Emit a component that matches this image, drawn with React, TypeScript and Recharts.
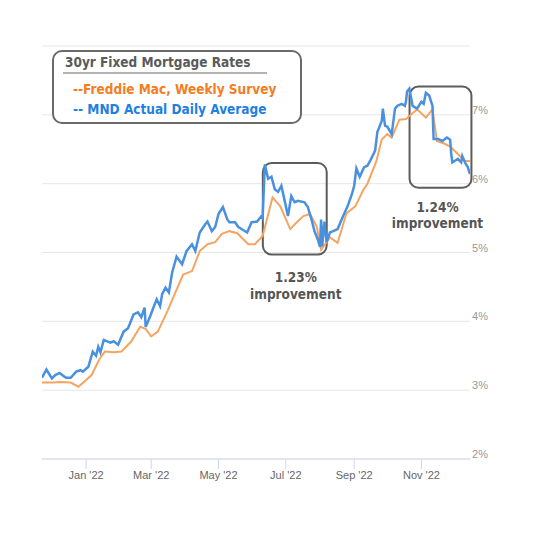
import React from 'react';
import { LineChart, Line, XAxis, YAxis, CartesianGrid, ReferenceArea } from 'recharts';

// x values are days counted from Jan 1 2022
const tickDays = [0, 59, 120, 181, 243, 304];
const tickLabels = ["Jan '22", "Mar '22", "May '22", "Jul '22", "Sep '22", "Nov '22"];
const rateTicks = [2, 3, 4, 5, 6, 7, 8];

// Freddie Mac, weekly survey
const freddieDays = [
  -40, -30, -23, -14, -7, 5, 12, 17, 25, 32, 41, 49, 54, 59, 65, 74, 82, 88, 96, 103,
  110, 117, 123, 130, 137, 147, 153, 160, 169, 176, 185, 191, 197, 203, 209, 213, 221, 228, 236, 244,
  251, 255, 263, 268, 273, 277, 284, 290, 300, 308, 314, 318, 325, 330, 337, 343, 348,
];
const freddieRates = [
  3.11, 3.11, 3.12, 3.11, 3.05, 3.22, 3.45, 3.56, 3.55, 3.56, 3.71, 3.92, 3.89, 3.78, 3.85, 4.16, 4.46, 4.68, 4.73, 5.02,
  5.12, 5.15, 5.27, 5.31, 5.28, 5.12, 5.12, 5.24, 5.8, 5.67, 5.34, 5.44, 5.53, 5.56, 5.38, 5.04, 5.22, 5.14, 5.57, 5.67,
  5.9, 6.0, 6.32, 6.64, 6.72, 6.67, 6.93, 6.94, 7.08, 6.96, 7.08, 6.62, 6.58, 6.54, 6.43, 6.33, 6.33,
];

// MND actual daily average
const mndDays = [
  -40, -36, -31, -28, -24, -20, -18, -14, -9, -5, -3, 2, 6, 9, 11, 13, 16, 22, 25, 29,
  34, 38, 43, 47, 50, 53, 54, 58, 62, 64, 67, 69, 72, 75, 78, 82, 87, 91, 96, 99,
  103, 108, 110, 114, 117, 120, 124, 128, 130, 135, 138, 142, 146, 150, 155, 159, 160, 162, 165, 168,
  171, 174, 177, 180, 183, 186, 189, 192, 198, 201, 205, 207, 210, 212, 213, 214, 216, 218, 221, 224,
  228, 233, 237, 241, 243, 245, 248, 252, 255, 258, 262, 264, 268, 269, 271, 273, 277, 280, 282, 286,
  289, 290, 291, 293, 296, 300, 304, 306, 308, 311, 314, 315, 319, 323, 327, 330, 331, 332, 334, 337,
  340, 341, 344, 346, 348,
];
const mndRates = [
  3.18, 3.3, 3.17, 3.22, 3.25, 3.2, 3.18, 3.18, 3.27, 3.29, 3.27, 3.34, 3.56, 3.5, 3.63, 3.55, 3.73, 3.69, 3.71, 3.66,
  3.85, 3.9, 4.1, 4.13, 4.06, 4.2, 3.92, 4.07, 4.24, 4.32, 4.22, 4.4, 4.49, 4.42, 4.71, 4.94, 4.83, 5.02, 5.12, 5.02,
  5.29, 5.41, 5.45, 5.31, 5.37, 5.56, 5.66, 5.48, 5.44, 5.44, 5.37, 5.33, 5.29, 5.44, 5.45, 5.53, 5.5, 6.28, 6.07, 6.1,
  5.92, 5.88, 5.97, 5.75, 5.53, 5.82, 5.73, 5.75, 5.73, 5.66, 5.44, 5.31, 5.19, 5.08, 5.48, 5.09, 5.45, 5.15, 5.29, 5.31,
  5.34, 5.53, 5.67, 5.85, 5.97, 6.22, 6.1, 6.24, 6.26, 6.35, 6.48, 6.75, 6.91, 7.09, 6.84, 6.83, 6.72, 7.09, 7.13, 7.16,
  7.13, 7.2, 7.34, 7.38, 7.13, 7.09, 7.19, 7.16, 7.32, 7.28, 7.13, 6.65, 6.65, 6.62, 6.67, 6.64, 6.43, 6.31, 6.33, 6.36,
  6.31, 6.4, 6.29, 6.24, 6.14,
];

const buildRows = () => {
  const rows = new Map<number, any>();
  freddieDays.forEach((d, i) => rows.set(d, { ...(rows.get(d) || { day: d }), freddie: freddieRates[i] }));
  mndDays.forEach((d, i) => rows.set(d, { ...(rows.get(d) || { day: d }), mnd: mndRates[i] }));
  return [...rows.values()].sort((a, b) => a.day - b.day);
};

const rows = buildRows();

const boldFont = "'DejaVu Sans Condensed', 'DejaVu Sans', sans-serif";
const tickFont = "'Liberation Sans', Arial, sans-serif";

const improvementBox = (label: string, dx: number, firstDy: number, secondDy: number) => (props: any) => {
  const { x, y, width, height } = props;
  const cx = x + width / 2 + dx;
  return (
    <g>
      <rect x={x} y={y} width={width} height={height} rx={9} fill="none" stroke="#5c5c5c" strokeWidth={2} />
      <text x={cx} y={y + height + firstDy} textAnchor="middle" fontFamily={boldFont} fontWeight="bold" fontSize={13.5} fill="#555">
        {label}
      </text>
      <text x={cx} y={y + height + secondDy} textAnchor="middle" fontFamily={boldFont} fontWeight="bold" fontSize={13.5} fill="#555">
        improvement
      </text>
    </g>
  );
};

const RateTick = (props: any) => {
  const { x, y, payload } = props;
  if (payload.value === 8) return null;
  return (
    <text x={x} y={y - 1} textAnchor="start" fontFamily={tickFont} fontSize={11} fill="#999">
      {payload.value}%
    </text>
  );
};

const App: React.FC = () => {
  return (
    <div style={{ position: 'relative', width: 546, height: 527 }}>
      <LineChart width={546} height={527} data={rows} margin={{ top: 38, left: 34, right: 44, bottom: 46 }}>
        <CartesianGrid horizontal vertical={false} stroke="#e6e6e6" />
        <XAxis
          dataKey="day"
          type="number"
          domain={[-40, 348]}
          allowDataOverflow
          ticks={tickDays}
          tickFormatter={(v: number) => tickLabels[tickDays.indexOf(v)]}
          height={30}
          tickSize={10}
          stroke="#ccd6eb"
          tick={{ fill: '#666', fontSize: 11, fontFamily: tickFont }}
        />
        <YAxis
          orientation="right"
          type="number"
          domain={[2, 8]}
          ticks={rateTicks}
          width={40}
          axisLine={false}
          tickLine={false}
          tickSize={0}
          tickMargin={2}
          tick={<RateTick />}
        />
        <ReferenceArea x1={160.2} x2={218.1} y1={4.97} y2={6.3} ifOverflow="visible" shape={improvementBox('1.23%', 1, 27, 44)} />
        <ReferenceArea x1={293.2} x2={349.3} y1={5.94} y2={7.41} ifOverflow="visible" shape={improvementBox('1.24%', -3, 24, 40)} />
        <Line type="linear" dataKey="freddie" stroke="#f5a462" strokeWidth={2} dot={false} connectNulls isAnimationActive={false} />
        <Line type="linear" dataKey="mnd" stroke="#4a90e0" strokeWidth={2.5} dot={false} connectNulls isAnimationActive={false} />
      </LineChart>
      <svg width={546} height={527} style={{ position: 'absolute', left: 0, top: 0, pointerEvents: 'none' }}>
        <rect x={45} y={43} width={248} height={72} rx={9} fill="#fff" stroke="#6a6a6a" strokeWidth={2} />
        <text x={57} y={59} fontFamily={boldFont} fontWeight="bold" fontSize={13.5} fill="#5a5a5a">
          30yr Fixed Mortgage Rates
        </text>
        <line x1={55} x2={259} y1={65} y2={65} stroke="#999" strokeWidth={1.5} />
        <text x={65} y={86} fontFamily={boldFont} fontWeight="bold" fontSize={13.5} fill="#f47d22">
          --Freddie Mac, Weekly Survey
        </text>
        <text x={65} y={106} fontFamily={boldFont} fontWeight="bold" fontSize={13.5} fill="#1f7fe3">
          -- MND Actual Daily Average
        </text>
      </svg>
    </div>
  );
};

export default App;
